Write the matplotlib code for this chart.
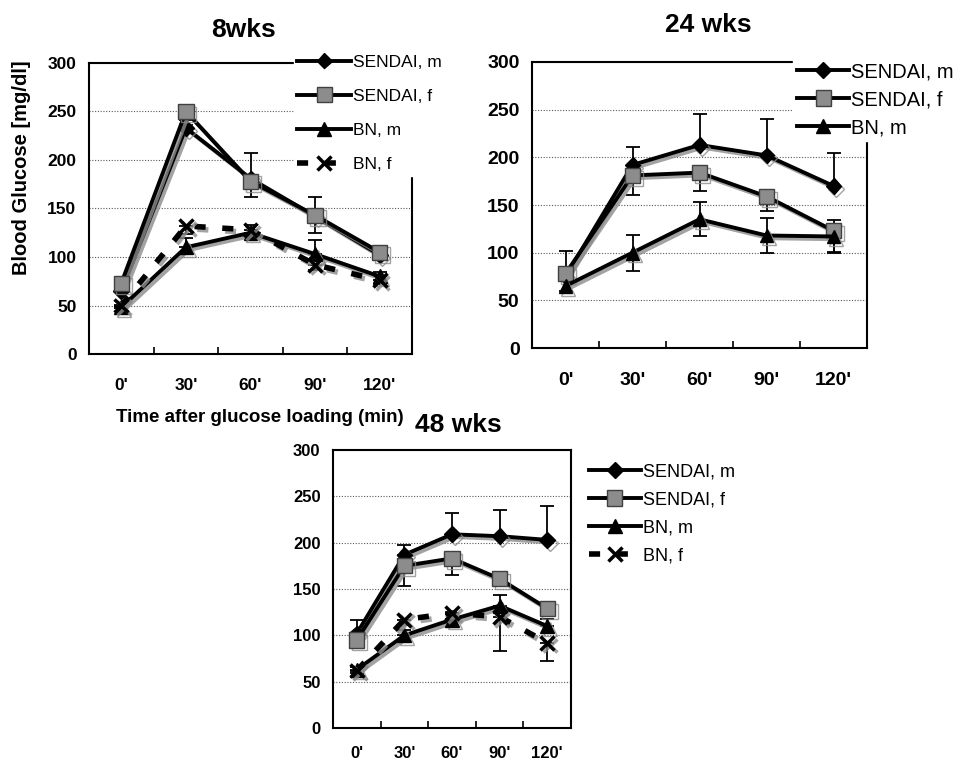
import matplotlib
matplotlib.use("Agg")
import matplotlib.pyplot as plt
import matplotlib.patheffects as pe
import numpy as np

# ---------------- data ----------------
time_labels = ["0'", "30'", "60'", "90'", "120'"]
series_names = ["SENDAI, m", "SENDAI, f", "BN, m", "BN, f"]

# 8 weeks
w8_sendai_m = [65, 233, 181, 142, 102]
w8_sendai_f = [73, 250, 178, 143, 105]
w8_bn_m = [48, 110, 125, 103, 80]
w8_bn_f = [50, 132, 128, 92, 76]
w8_err_sendai_m = [5, 8, 26, 20, 5]
w8_err_sendai_f = [5, 14, 16, 18, 5]
w8_err_bn_m = [3, 10, 8, 15, 5]
w8_err_bn_f = [3, 8, 6, 5, 4]

# 24 weeks
w24_sendai_m = [75, 192, 213, 202, 170]
w24_sendai_f = [78, 181, 184, 159, 123]
w24_bn_m = [65, 100, 135, 118, 117]
w24_err_sendai_m = [27, 19, 32, 38, 35]
w24_err_sendai_f = [8, 20, 19, 15, 22]
w24_err_bn_m = [5, 19, 18, 18, 17]

# 48 weeks
w48_sendai_m = [102, 187, 209, 207, 203]
w48_sendai_f = [95, 175, 183, 161, 129]
w48_bn_m = [63, 100, 117, 132, 110]
w48_bn_f = [62, 117, 124, 120, 92]
w48_err_sendai_m = [15, 10, 23, 28, 37]
w48_err_sendai_f = [8, 22, 18, 6, 8]
w48_err_bn_m = [3, 6, 6, 11, 8]
w48_err_bn_f = [3, 6, 6, 37, 20]

W, H = 973, 766
fig = plt.figure(figsize=(W / 100, H / 100), dpi=100)

arial = ["Liberation Sans", "DejaVu Sans"]

shadow = [pe.SimpleLineShadow(offset=(2, -2), shadow_color="0.55", alpha=0.8), pe.Normal()]

styles = {
    "SENDAI, m": dict(color="black", marker="D", markersize=8, markerfacecolor="black",
                      markeredgecolor="black", linestyle="-", lw=2.8),
    "SENDAI, f": dict(color="black", marker="s", markersize=11, markerfacecolor="0.55",
                      markeredgecolor="0.25", linestyle="-", lw=2.8),
    "BN, m": dict(color="black", marker="^", markersize=10, markerfacecolor="black",
                  markeredgecolor="black", linestyle="-", lw=2.8),
    "BN, f": dict(color="black", marker="x", markersize=10, markeredgewidth=2.5,
                  linestyle=(0, (2.0, 3.0)), lw=4),
}


def make_panel(rect, title, title_xy, series, errs, dirs, tick_fs, xpad, leg_loc, leg_fs,
               leg_spacing, handlelen):
    l, r, t, b = rect
    ax = fig.add_axes([l / W, 1 - b / H, (r - l) / W, (b - t) / H])
    x = np.arange(len(time_labels))
    for name, vals, err, d in zip(series_names, series, errs, dirs):
        if vals is None:
            continue
        st = styles[name]
        lower = err if d in ("-", "b") else [0] * len(err)
        upper = err if d in ("+", "b") else [0] * len(err)
        ax.errorbar(x, vals, yerr=[lower, upper], fmt="none", ecolor="black",
                    elinewidth=1.3, capsize=5, capthick=1.3, zorder=2)
        ln, = ax.plot(x, vals, label=name, zorder=3, **st)
        ln.set_path_effects(shadow)
    ax.set_xlim(-0.5, len(time_labels) - 0.5)
    ax.set_ylim(0, 300)
    ax.set_yticks(np.arange(0, 301, 50))
    ax.set_xticks(x)
    ax.set_xticklabels(time_labels)
    ax.set_xticks(np.arange(0.5, len(time_labels) - 0.5, 1), minor=True)
    ax.tick_params(axis="x", which="major", length=0, pad=xpad)
    ax.tick_params(axis="x", which="minor", length=5, direction="in", width=1.2)
    ax.tick_params(axis="y", length=0, pad=9)
    for lab in ax.get_xticklabels() + ax.get_yticklabels():
        lab.set_fontfamily(arial)
        lab.set_fontsize(tick_fs)
        lab.set_fontweight("bold")
    ax.yaxis.grid(True, linestyle=(0, (1, 1.5)), color="0.35", lw=0.8)
    ax.set_axisbelow(True)
    for sp in ax.spines.values():
        sp.set_linewidth(1.5)
        sp.set_color("black")
    fig.text(title_xy[0] / W, 1 - title_xy[1] / H, title, ha="center", va="center",
             fontsize=19, fontweight="bold", family=arial)
    leg = ax.legend(loc="upper left", bbox_to_anchor=(leg_loc[0] / W, 1 - leg_loc[1] / H),
                    bbox_transform=fig.transFigure, frameon=True, fancybox=False,
                    edgecolor="white", facecolor="white", framealpha=1,
                    handlelength=handlelen, handletextpad=0.1, labelspacing=leg_spacing,
                    borderpad=0.2, borderaxespad=0,
                    prop=dict(family=arial, size=leg_fs))
    leg.set_zorder(10)
    for h in leg.get_lines():
        h.set_path_effects([pe.Normal()])
    return ax


ax1 = make_panel((89, 412, 63, 354), "8wks", (243, 30),
                 [w8_sendai_m, w8_sendai_f, w8_bn_m, w8_bn_f],
                 [w8_err_sendai_m, w8_err_sendai_f, w8_err_bn_m, w8_err_bn_f],
                 ["+", "-", "+", "-"], 12.5, 17, (294, 51), 12.5, 1.1, 3.1)
ax1.set_ylabel("Blood Glucose [mg/dl]", fontsize=14.5, fontweight="bold", family=arial)
ax1.yaxis.set_label_coords(-0.18, 0.64)
ax1.set_xlabel("Time after glucose loading (min)", fontsize=13.5, fontweight="bold", family=arial)
ax1.xaxis.set_label_coords(0.53, -0.19)

ax2 = make_panel((532, 867, 62, 348), "24 wks", (708, 25),
                 [w24_sendai_m, w24_sendai_f, w24_bn_m, None],
                 [w24_err_sendai_m, w24_err_sendai_f, w24_err_bn_m, None],
                 ["+", "-", "b", "-"], 14, 17, (793, 58), 14.5, 0.45, 2.6)

ax3 = make_panel((333, 571, 450, 728), "48 wks", (458, 425),
                 [w48_sendai_m, w48_sendai_f, w48_bn_m, w48_bn_f],
                 [w48_err_sendai_m, w48_err_sendai_f, w48_err_bn_m, w48_err_bn_f],
                 ["+", "-", "+", "-"], 12, 13, (585, 460), 13, 0.6, 2.9)

fig.savefig("out.png", dpi=100)
